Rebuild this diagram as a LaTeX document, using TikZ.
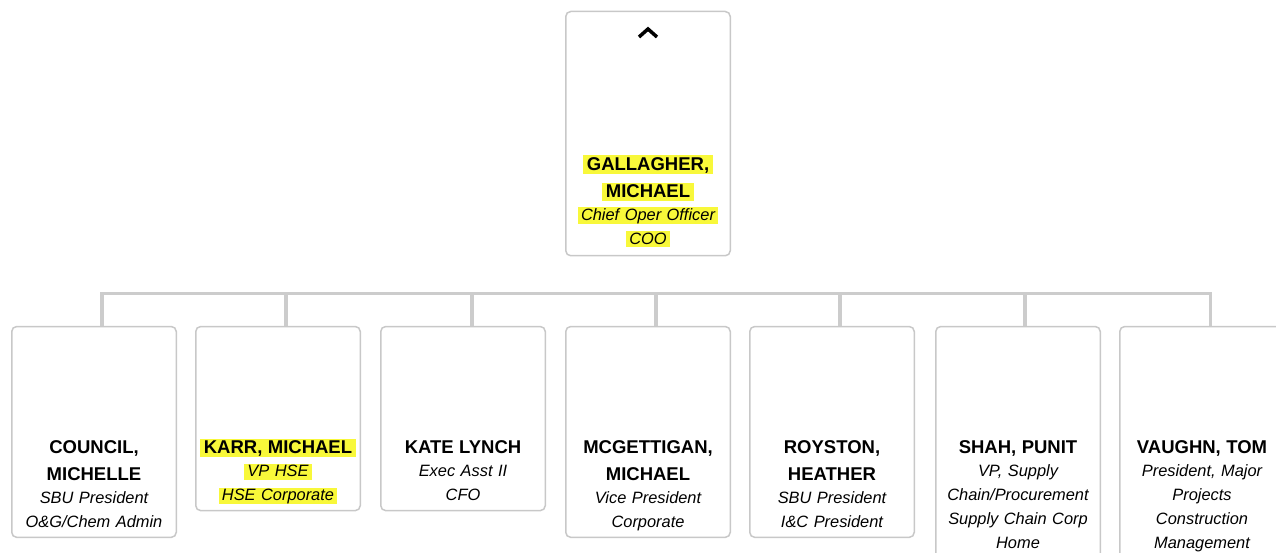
\documentclass[tikz,border=0pt]{standalone}
\usepackage{fontspec}
\setmainfont{Liberation Sans}
\definecolor{cardgray}{HTML}{C8C8C8}
\definecolor{linkgray}{HTML}{CCCCCC}
\definecolor{hlyellow}{HTML}{F8F83A}
% name line, highlight, space above first line / below last line
\newcommand\nm[1]{{\fontsize{18.5pt}{24pt}\selectfont\upshape\bfseries #1}}
\newcommand\hl[1]{{\setlength\fboxsep{0pt}\colorbox{hlyellow}{\rule[-0.19em]{0pt}{0.99em}\hspace{3.4pt}#1\hspace{3.4pt}}}}
\newcommand\tp[1]{\rule{0pt}{#1}}
\newcommand\bt[1]{\rule[-#1]{0pt}{0pt}}
\tikzset{
  card/.style={draw=cardgray, line width=1.5pt, rounded corners=5pt, fill=white,
    minimum width=164.5pt, text width=160pt, align=center, anchor=north,
    inner sep=0pt, font=\fontsize{16.4pt}{24pt}\selectfont\itshape},
  link/.style={draw=linkgray, line width=3.5pt},
  chev/.style={draw=black, line width=3.5pt}
}
\begin{document}
\begin{tikzpicture}[x=1pt,y=-1pt]
\useasboundingbox (0,0) rectangle (1276,553);
% top
\node[card] (coo) at (648,10.75) {\tp{158.75pt}\nm{\hl{GALLAGHER,}}\\[3.7pt]\nm{\hl{MICHAEL}}\\[-1.7pt]\hl{Chief Oper Officer}\\\hl{COO}\bt{11.5pt}};
\draw[chev] (639,37) -- (648,29) -- (657,37);
% reports
\node[card] (council) at (94,325.75) {\tp{127pt}\nm{COUNCIL,}\\[2.7pt]\nm{MICHELLE}\\[-0.6pt]SBU President\\O\&G/Chem Admin\bt{9.75pt}};
\node[card] (karr) at (278,325.75) {\tp{127pt}\nm{\hl{KARR, MICHAEL}}\\[-0.6pt]\hl{VP HSE}\\\hl{HSE Corporate}\bt{9.75pt}};
\node[card] (lynch) at (463,325.75) {\tp{127pt}\nm{KATE LYNCH}\\[-0.6pt]Exec Asst II\\CFO\bt{9.75pt}};
\node[card] (mcgettigan) at (648,325.75) {\tp{127pt}\nm{MCGETTIGAN,}\\[2.7pt]\nm{MICHAEL}\\[-0.6pt]Vice President\\Corporate\bt{9.75pt}};
\node[card] (royston) at (832,325.75) {\tp{127pt}\nm{ROYSTON,}\\[2.7pt]\nm{HEATHER}\\[-0.6pt]SBU President\\I\&C President\bt{9.75pt}};
\node[card] (shah) at (1018,325.75) {\tp{127pt}\nm{SHAH, PUNIT}\\[-0.6pt]VP, Supply\\Chain/Procurement\\Supply Chain Corp\\Home\bt{9.75pt}};
\node[card] (vaughn) at (1202,325.75) {\tp{127pt}\nm{VAUGHN, TOM}\\[-0.6pt]President, Major\\Projects\\Construction\\Management\bt{9.75pt}};
% bus
\coordinate (bus) at (656,293.3);
\draw[link] ([xshift=8pt]council.north) |- (bus) -| ([xshift=8.5pt]vaughn.north);
\foreach \c/\s in {karr/8,lynch/9,mcgettigan/8,royston/8,shah/7}
  \draw[link] ([xshift=\s pt]\c.north) -- ([xshift=\s pt]\c.north |- bus);
\end{tikzpicture}
\end{document}
